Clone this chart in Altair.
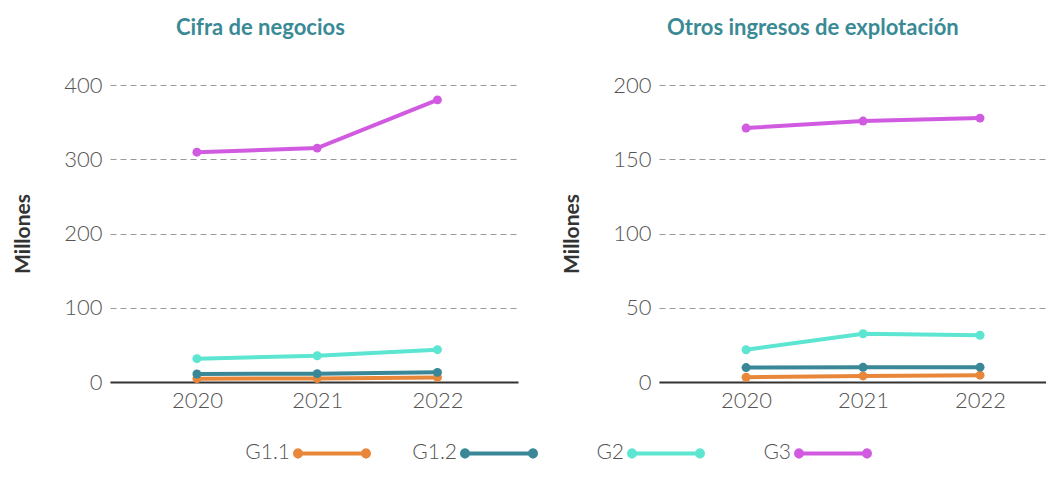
import altair as alt
import pandas as pd

years = ["2020", "2021", "2022"]
series = ["G1.1", "G1.2", "G2", "G3"]
colors = ["#E8873A", "#3A8797", "#5CE5D0", "#D15BE0"]

cifra_g11 = [4.5, 4.7, 6.2]
cifra_g12 = [10.8, 11.2, 13.0]
cifra_g2 = [31.4, 35.4, 43.5]
cifra_g3 = [309.5, 315.0, 380.0]

otros_g11 = [3.2, 4.1, 4.6]
otros_g12 = [9.7, 9.9, 10.0]
otros_g2 = [21.7, 32.5, 31.5]
otros_g3 = [171.0, 175.7, 177.7]

cifra_ticks = [0, 100, 200, 300, 400]
otros_ticks = [0, 50, 100, 150, 200]

FONT = "Lato"
# legend symbol: blank room on the left for the label, then a line with a dot at each end
SYMBOL = ("M-1,0"
          "M-0.0429,0L0.9286,0"
          "M-0.0857,0A0.0429,0.0429,0,1,0,0,0A0.0429,0.0429,0,1,0,-0.0857,0Z"
          "M0.8857,0A0.0429,0.0429,0,1,0,0.9714,0A0.0429,0.0429,0,1,0,0.8857,0Z")


def frame(vals):
    rows = []
    for s, v in zip(series, vals):
        for y, x in zip(years, v):
            rows.append({"Año": y, "Grupo": s, "Valor": x})
    return pd.DataFrame(rows)


def panel(title, dx, df, ticks, width, pad, align):
    return alt.Chart(df, title=alt.Title(title, dx=dx)).mark_line(
        strokeWidth=4,
        point=alt.OverlayMarkDef(size=80, filled=True),
    ).encode(
        x=alt.X("Año:O", scale=alt.Scale(type="point", padding=pad, align=align),
                axis=alt.Axis(title=None, labelAngle=0)),
        y=alt.Y("Valor:Q", scale=alt.Scale(domain=[ticks[0], ticks[-1]], nice=False),
                axis=alt.Axis(title="Millones", values=ticks)),
        color=alt.Color("Grupo:N", scale=alt.Scale(domain=series, range=colors),
                        legend=alt.Legend(title=None)),
    ).properties(width=width, height=297)


left = panel("Cifra de negocios", -5,
             frame([cifra_g11, cifra_g12, cifra_g2, cifra_g3]), cifra_ticks, 408, 0.696, 0.519)
right = panel("Otros ingresos de explotación", 9,
              frame([otros_g11, otros_g12, otros_g2, otros_g3]), otros_ticks, 387, 0.654, 0.569)

chart = alt.hconcat(left, right, spacing=43).properties(
    padding={"left": 4, "top": 9, "right": 0, "bottom": 0}
).configure_view(
    stroke=None
).configure_title(
    font=FONT, fontSize=22, fontWeight="bold", color="#3A8A96",
    anchor="middle", frame="bounds", offset=34,
).configure_axis(
    labelFont=FONT, labelFontSize=22, labelFontWeight=300, labelColor="#555555",
    titleFont=FONT, titleFontSize=21, titleFontWeight="bold", titleColor="#333333",
    ticks=False,
).configure_axisY(
    domain=False, grid=True, gridDash=[6, 4], gridColor="#9a9a9a", gridWidth=1,
    labelPadding=8, titlePadding=30,
).configure_axisX(
    domain=True, domainColor="#333333", domainWidth=2, grid=False, labelPadding=8,
).configure_legend(
    orient="none", legendX=119, legendY=296, direction="horizontal",
    symbolType=SYMBOL, symbolSize=19600, symbolStrokeWidth=4,
    labelFont=FONT, labelFontSize=21, labelFontWeight=300, labelColor="#555555",
    labelAlign="right", labelOffset={"expr": "-83"}, columnPadding=12,
    gridAlign="all",
)

chart.save("out.html", embed_options={"renderer": "svg", "actions": False})
